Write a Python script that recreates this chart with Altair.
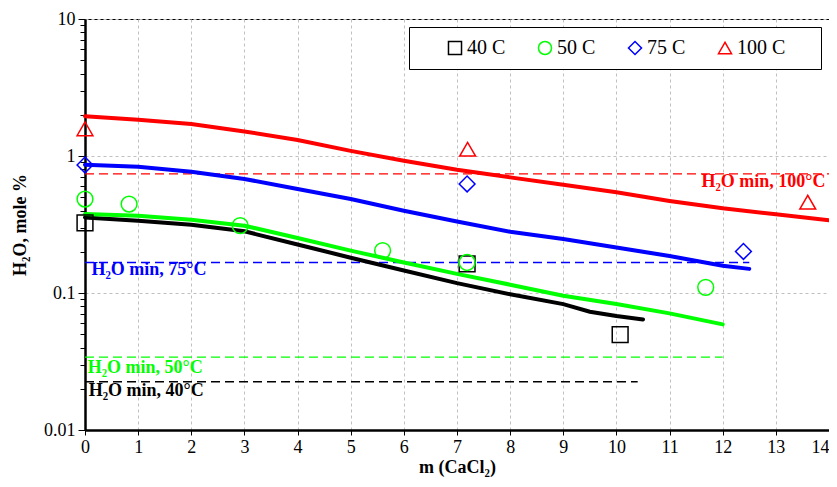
import altair as alt
import pandas as pd

# ---------------- data ----------------
series_names = ["40 C", "50 C", "75 C", "100 C"]
series_colors = ["#000000", "#00ff00", "#0000ff", "#ff0000"]
series_shapes = ["square", "circle", "diamond", "triangle-up"]

# model curves (solid thick lines)
c40_m = [0, 1, 2, 3, 4, 5, 6, 7, 8, 9, 9.5, 10, 10.5]
c40_y = [0.356, 0.337, 0.315, 0.282, 0.226, 0.181, 0.146, 0.118, 0.098, 0.083, 0.073, 0.068, 0.064]
c50_m = [0, 1, 2, 3, 4, 5, 6, 7, 8, 9, 10, 11, 12]
c50_y = [0.377, 0.367, 0.343, 0.31, 0.252, 0.204, 0.167, 0.138, 0.115, 0.0955, 0.083, 0.071, 0.059]
c75_m = [0, 1, 2, 3, 4, 5, 6, 7, 8, 9, 10, 11, 12, 12.5]
c75_y = [0.864, 0.835, 0.768, 0.68, 0.574, 0.485, 0.398, 0.333, 0.28, 0.248, 0.215, 0.186, 0.158, 0.15]
c100_m = [0, 1, 2, 3, 4, 5, 6, 7, 8, 9, 10, 11, 12, 13, 14]
c100_y = [1.95, 1.84, 1.71, 1.51, 1.31, 1.09, 0.924, 0.794, 0.698, 0.617, 0.543, 0.47, 0.415, 0.375, 0.34]

# experimental points
p40_m = [0, 7.19, 10.07]
p40_y = [0.325, 0.163, 0.0497]
p50_m = [0, 0.83, 2.92, 5.6, 7.19, 11.68]
p50_y = [0.485, 0.446, 0.31, 0.204, 0.167, 0.11]
p75_m = [0, 7.19, 12.39]
p75_y = [0.86, 0.625, 0.201]
p100_m = [0, 7.2, 13.6]
p100_y = [1.58, 1.12, 0.46]

# H2O min dashed levels
h_y = [0.0225, 0.034, 0.167, 0.74]
h_xend = [10.4, 12.0, 12.5, 14.0]
h_text = ["H₂O min, 40°C", "H₂O min, 50°C", "H₂O min, 75°C", "H₂O min, 100°C"]
h_text_x = [0.07, 0.05, 0.12, 11.6]
h_text_y = [0.0194, 0.0285, 0.146, 0.649]

x_ticks = list(range(0, 15))
y_major = [0.01, 0.1, 1, 10]
y_major_labels = ["0.01", "0.1", "1", "10"]
y_minor = [0.02, 0.03, 0.04, 0.05, 0.06, 0.07, 0.08, 0.09,
           0.2, 0.3, 0.4, 0.5, 0.6, 0.7, 0.8, 0.9,
           2, 3, 4, 5, 6, 7, 8, 9]

# ---------------- tables ----------------
curves = []
for name, col, ms, ys in zip(series_names, series_colors,
                             [c40_m, c50_m, c75_m, c100_m],
                             [c40_y, c50_y, c75_y, c100_y]):
    for m, y in zip(ms, ys):
        curves.append({"series": name, "color": col, "m": m, "y": y})
curves = pd.DataFrame(curves)

points = []
for name, ms, ys in zip(series_names, [p40_m, p50_m, p75_m, p100_m],
                        [p40_y, p50_y, p75_y, p100_y]):
    for m, y in zip(ms, ys):
        points.append({"series": name, "m": m, "y": y})
points = pd.DataFrame(points)

hlines = pd.DataFrame({"series": series_names, "color": series_colors,
                       "y": h_y, "x0": [0] * 4, "x1": h_xend,
                       "text": h_text, "tx": h_text_x, "ty": h_text_y})

FONT = "Liberation Serif"

x_scale = alt.Scale(domain=[0, 14], nice=False)
y_scale = alt.Scale(type="log", domain=[0.01, 10], nice=False)

is_major = " || ".join(f"datum.value == {v}" for v in y_major)
label_expr = " : ".join(
    f"datum.value == {v} ? '{l}'" for v, l in zip(y_major, y_major_labels)
) + " : ''"
x_last = f"datum.value == {x_ticks[-1]}"

x_axis = alt.Axis(values=x_ticks, title="m (CaCl₂)", grid=True,
                  gridColor="#c0c0c0", gridDash=[3, 3], gridWidth=1,
                  tickSize=5, tickColor="black", domainColor="black",
                  domainWidth=2.5, labelFont=FONT, labelFontSize=18,
                  labelColor="black", labelPadding=3, labelFlush=False,
                  labelAlign={"condition": {"test": x_last, "value": "right"}, "value": "center"},
                  titleFont=FONT, titleFontSize=18, titleFontWeight="bold",
                  titleColor="black", titlePadding=2)

y_axis = alt.Axis(values=sorted(y_major + y_minor), title="H₂O, mole %",
                  labelExpr=label_expr, grid=True,
                  gridColor="#c0c0c0", gridDash=[3, 3], gridWidth=1,
                  gridOpacity={"condition": {"test": is_major, "value": 1}, "value": 0},
                  tickSize={"condition": {"test": is_major, "value": 7}, "value": 5},
                  tickColor="black", domainColor="black", domainWidth=2.5,
                  labelFont=FONT, labelFontSize=18, labelColor="black",
                  labelPadding=3, labelFlush=False,
                  titleFont=FONT, titleFontSize=18, titleFontWeight="bold",
                  titleColor="black", titlePadding=14)

X = alt.X("m:Q", scale=x_scale, axis=x_axis)
Y = alt.Y("y:Q", scale=y_scale, axis=y_axis)

lines = alt.Chart(curves).mark_line(strokeWidth=4, strokeCap="round").encode(
    x=X, y=Y,
    color=alt.Color("color:N", scale=None),
    detail="series:N",
    order="m:Q",
)

rules = alt.Chart(hlines).mark_rule(strokeWidth=1.3, strokeDash=[9, 5]).encode(
    x=alt.X("x0:Q", scale=x_scale),
    x2="x1:Q",
    y=alt.Y("y:Q", scale=y_scale),
    color=alt.Color("color:N", scale=None),
)

labels = alt.Chart(hlines).mark_text(
    align="left", baseline="middle", font=FONT, fontSize=18, fontWeight="bold"
).encode(
    x=alt.X("tx:Q", scale=x_scale),
    y=alt.Y("ty:Q", scale=y_scale),
    text="text:N",
    color=alt.Color("color:N", scale=None),
)

legend = alt.Legend(
    title=" ", titleOrient="right", titleFontSize=12, titlePadding=25,
    orient="none", legendX=324, legendY=8, direction="horizontal",
    strokeColor="black", fillColor="white", padding=11, symbolOffset=25,
    columnPadding=4, labelFont=FONT, labelFontSize=20, labelColor="black",
    symbolSize=170, symbolStrokeWidth=1.5, labelOffset=2,
)

pts = alt.Chart(points).mark_point(filled=False, size=250, strokeWidth=1.5, opacity=1).encode(
    x=alt.X("m:Q", scale=x_scale),
    y=alt.Y("y:Q", scale=y_scale),
    color=alt.Color("series:N", scale=alt.Scale(domain=series_names, range=series_colors),
                    legend=legend, sort=series_names),
    shape=alt.Shape("series:N", scale=alt.Scale(domain=series_names, range=series_shapes),
                    legend=legend, sort=series_names),
)

chart = alt.layer(rules, lines, labels, pts).properties(
    width=744, height=411,
    autosize=alt.AutoSizeParams(type="none"),
    padding={"left": 77, "top": 11, "right": 0, "bottom": 49},
).configure_view(stroke="black", strokeWidth=1)

chart.save("out.html", embed_options={"renderer": "svg", "actions": False})
